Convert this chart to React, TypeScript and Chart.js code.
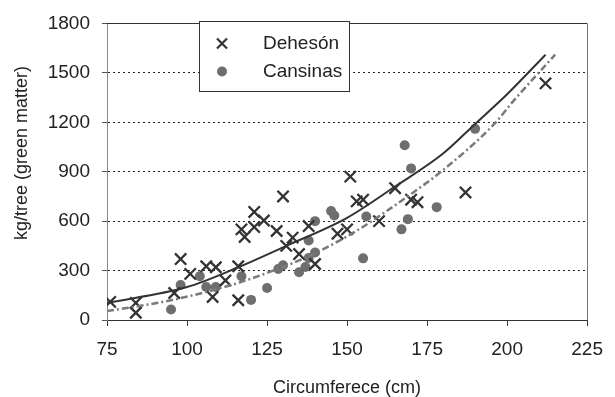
import React, { useEffect, useRef } from "react";
import { Chart, registerables } from "chart.js";

Chart.register(...registerables);

const FONT = '"Liberation Sans", Arial, sans-serif';
const TEXT = "#222222";

const xTicks = [75, 100, 125, 150, 175, 200, 225];
const yTicks = [0, 300, 600, 900, 1200, 1500, 1800];

const seriesNames = ["Dehesón", "Cansinas"];
const xTitle = "Circumferece (cm)";
const yTitle = "kg/tree (green matter)";

const dehesonX = [76, 84, 84, 96, 98, 101, 106, 109, 108, 112, 116, 116, 117, 118, 121, 121, 124, 128, 130, 131, 133, 135, 138, 140, 147, 150, 151, 153, 155, 160, 165, 170, 172, 187, 212];
const dehesonY = [110, 104, 44, 164, 370, 280, 326, 320, 140, 240, 326, 120, 550, 504, 564, 656, 604, 540, 750, 450, 500, 400, 570, 340, 524, 550, 870, 720, 730, 600, 800, 730, 715, 774, 1436];

const cansinasX = [95, 98, 104, 106, 109, 117, 120, 125, 128.5, 130, 135, 137, 138, 140, 138, 140, 145, 146, 155, 156, 167, 169, 168, 170, 178, 190];
const cansinasY = [64, 212, 266, 200, 200, 266, 122, 194, 310, 332, 290, 322, 376, 410, 483, 600, 662, 634, 374, 628, 550, 612, 1060, 920, 685, 1160];

const trendDehesonX = [75, 100, 116, 131, 150, 165, 180, 190, 200, 212];
const trendDehesonY = [104, 200, 320, 450, 620, 810, 1010, 1190, 1370, 1610];

const trendCansinasX = [75, 95, 116, 131, 137, 152, 170, 180, 196, 202, 215];
const trendCansinasY = [54, 120, 225, 330, 378, 530, 765, 910, 1190, 1330, 1610];

const zip = (xs: number[], ys: number[]) => xs.map((x, i) => ({ x, y: ys[i] }));

const CROSS_COLOR = "#333333";
const DOT_COLOR = "#6e6e6e";

const framePlugin = {
  id: "frameAndLegend",
  afterDatasetsDraw(chart: any) {
    const { ctx, chartArea } = chart;
    const { left, right, top, bottom } = chartArea;
    ctx.save();
    ctx.strokeStyle = "#333";
    ctx.lineWidth = 1;
    ctx.beginPath();
    ctx.moveTo(left, Math.round(top) + 0.5);
    ctx.lineTo(right, Math.round(top) + 0.5);
    ctx.stroke();
    ctx.strokeStyle = "#777";
    ctx.beginPath();
    ctx.moveTo(Math.round(right) + 0.5, top);
    ctx.lineTo(Math.round(right) + 0.5, bottom);
    ctx.stroke();

    // legend
    const lx = 199.5, ly = 21.5, lw = 150, lh = 70;
    ctx.fillStyle = "#fff";
    ctx.fillRect(lx, ly, lw, lh);
    ctx.strokeStyle = "#333";
    ctx.lineWidth = 1;
    ctx.strokeRect(lx, ly, lw, lh);

    const cx = 222, cy = 43.5;
    ctx.strokeStyle = CROSS_COLOR;
    ctx.lineWidth = 2.2;
    ctx.beginPath();
    ctx.moveTo(cx - 5, cy - 5);
    ctx.lineTo(cx + 5, cy + 5);
    ctx.moveTo(cx - 5, cy + 5);
    ctx.lineTo(cx + 5, cy - 5);
    ctx.stroke();
    ctx.fillStyle = DOT_COLOR;
    ctx.beginPath();
    ctx.arc(222, 71.5, 5, 0, Math.PI * 2);
    ctx.fill();

    ctx.fillStyle = TEXT;
    ctx.font = `19px ${FONT}`;
    ctx.textBaseline = "middle";
    ctx.textAlign = "left";
    ctx.fillText(seriesNames[0], 263, 44);
    ctx.fillText(seriesNames[1], 263, 72);

    // y title
    ctx.translate(22, 153);
    ctx.rotate(-Math.PI / 2);
    ctx.textAlign = "center";
    ctx.font = `18px ${FONT}`;
    ctx.fillText(yTitle, 0, 0);
    ctx.restore();
  },
};

export default function App() {
  const ref = useRef<HTMLCanvasElement | null>(null);

  useEffect(() => {
    document.body.style.margin = "0";
    const canvas = ref.current;
    if (!canvas) return;
    const chart = new Chart(canvas, {
      type: "scatter",
      data: {
        datasets: [
          {
            label: seriesNames[0] + " trend",
            data: zip(trendDehesonX, trendDehesonY),
            showLine: true,
            borderColor: "#333333",
            borderWidth: 2,
            pointRadius: 0,
            cubicInterpolationMode: "monotone",
            order: 0,
          } as any,
          {
            label: seriesNames[1] + " trend",
            data: zip(trendCansinasX, trendCansinasY),
            showLine: true,
            borderColor: "#7a7a7a",
            borderWidth: 2.5,
            borderDash: [7, 3, 2, 3],
            pointRadius: 0,
            cubicInterpolationMode: "monotone",
            order: 1,
          } as any,
          {
            label: seriesNames[0],
            data: zip(dehesonX, dehesonY),
            pointStyle: "crossRot",
            pointRadius: 8,
            pointBorderWidth: 2.3,
            borderColor: CROSS_COLOR,
            backgroundColor: CROSS_COLOR,
            order: 2,
          } as any,
          {
            label: seriesNames[1],
            data: zip(cansinasX, cansinasY),
            pointStyle: "circle",
            pointRadius: 5,
            pointBorderWidth: 0,
            borderColor: DOT_COLOR,
            backgroundColor: DOT_COLOR,
            order: 3,
          } as any,
        ],
      },
      options: {
        animation: false,
        responsive: false,
        devicePixelRatio: 1,
        layout: { padding: { top: 20, right: 20, left: 0, bottom: 0 } },
        plugins: {
          legend: { display: false },
          tooltip: { enabled: false },
        },
        scales: {
          x: {
            type: "linear",
            min: 75,
            max: 225,
            afterFit: (s: any) => { s.height = 77; },
            afterBuildTicks: (s: any) => { s.ticks = xTicks.map((v) => ({ value: v })); },
            ticks: {
              color: TEXT,
              font: { family: FONT, size: 19 },
              padding: 12,
              callback: (v: any) => String(v),
            },
            grid: {
              display: true,
              drawOnChartArea: false,
              drawTicks: true,
              tickLength: 6,
              tickColor: "#333",
              tickWidth: 1,
            },
            border: { display: true, color: "#333", width: 1 },
            title: {
              display: true,
              text: xTitle,
              color: TEXT,
              font: { family: FONT, size: 18, lineHeight: 1 },
              padding: { top: 0, bottom: 0 },
            },
          },
          y: {
            type: "linear",
            min: 0,
            max: 1800,
            afterFit: (s: any) => { s.width = 107; },
            afterBuildTicks: (s: any) => { s.ticks = yTicks.map((v) => ({ value: v })); },
            ticks: {
              color: TEXT,
              font: { family: FONT, size: 19 },
              padding: 12,
              callback: (v: any) => String(v),
            },
            grid: {
              display: true,
              drawTicks: true,
              tickLength: 5,
              color: (c: any) => (c.tick && (c.tick.value === 0 || c.tick.value === 1800) ? "rgba(0,0,0,0)" : "#222"),
              tickColor: "#555",
              lineWidth: 1,
              tickBorderDash: [],
            } as any,
            border: { display: true, color: "#888", width: 1, dash: [2, 3] },
            title: { display: false },
          },
        },
      },
      plugins: [framePlugin],
    });
    return () => chart.destroy();
  }, []);

  return (
    <div style={{ width: 615, height: 397 }}>
      <canvas ref={ref} width={615} height={397} style={{ display: "block", width: 615, height: 397 }} />
    </div>
  );
}
